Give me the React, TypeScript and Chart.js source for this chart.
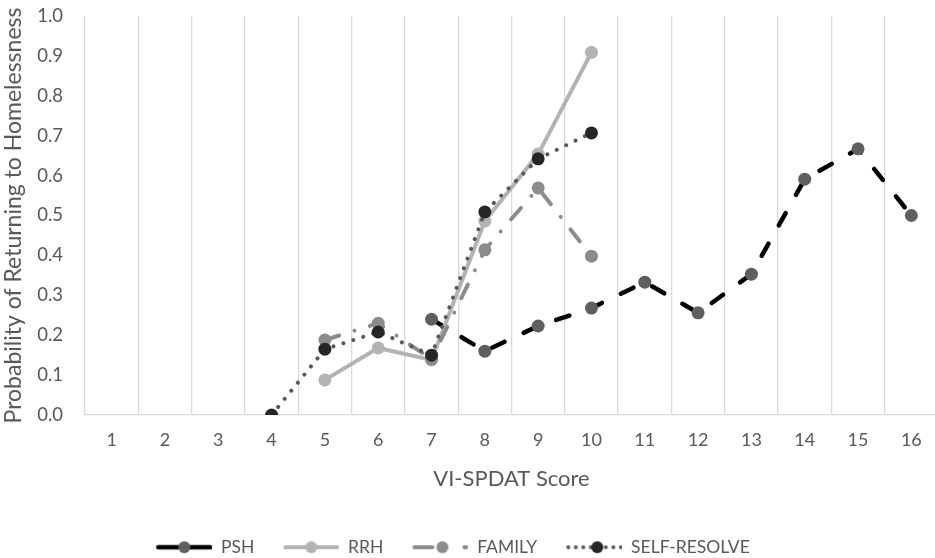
import React, { useEffect, useRef } from 'react';
import { Chart, registerables } from 'chart.js';

Chart.register(...registerables);

const categories = ['1', '2', '3', '4', '5', '6', '7', '8', '9', '10', '11', '12', '13', '14', '15', '16'];
const seriesNames = ['PSH', 'RRH', 'FAMILY', 'SELF-RESOLVE'];
const pshValues = [null, null, null, null, null, null, 0.24, 0.16, 0.223, 0.268, 0.333, 0.256, 0.353, 0.591, 0.667, 0.5];
const rrhValues = [null, null, null, null, 0.088, 0.168, 0.138, 0.486, 0.654, 0.909, null, null, null, null, null, null];
const familyValues = [null, null, null, null, 0.188, 0.23, 0.14, 0.414, 0.569, 0.398, null, null, null, null, null, null];
const selfResolveValues = [null, null, null, 0, 0.165, 0.208, 0.15, 0.509, 0.642, 0.707, null, null, null, null, null, null];
const yTicks = [0, 0.1, 0.2, 0.3, 0.4, 0.5, 0.6, 0.7, 0.8, 0.9, 1.0];

const TEXT = '#595959';
const GRID = '#d9d9d9';
const FONT = 'Lato';

const CANVAS_W = 945;
const CANVAS_H = 566;
const IMG_W = 80;
const IMG_H = 16;
const LEGEND_SHIFT_X = -28;

function makeSymbol(draw: (ctx: CanvasRenderingContext2D) => void) {
  const c = document.createElement('canvas');
  c.width = IMG_W;
  c.height = IMG_H;
  const ctx = c.getContext('2d')!;
  ctx.lineCap = 'round';
  draw(ctx);
  return c;
}

function marker(ctx: CanvasRenderingContext2D, x: number, color: string) {
  ctx.setLineDash([]);
  ctx.fillStyle = color;
  ctx.beginPath();
  ctx.arc(x, IMG_H / 2, 6, 0, Math.PI * 2);
  ctx.fill();
}

function seg(ctx: CanvasRenderingContext2D, x1: number, x2: number, color: string, w: number, dash: number[] = []) {
  ctx.setLineDash(dash);
  ctx.strokeStyle = color;
  ctx.lineWidth = w;
  ctx.beginPath();
  ctx.moveTo(x1, IMG_H / 2);
  ctx.lineTo(x2, IMG_H / 2);
  ctx.stroke();
}

const legendShift = {
  id: 'legendShift',
  afterLayout(chart: any) {
    const lg = chart.legend;
    if (lg) {
      lg.left += LEGEND_SHIFT_X;
      lg.right += LEGEND_SHIFT_X;
    }
  },
};

export default function App() {
  const ref = useRef<HTMLCanvasElement | null>(null);

  useEffect(() => {
    document.body.style.margin = '0';
    document.body.style.overflow = 'hidden';
    const canvas = ref.current;
    if (!canvas) return;

    const symbols = [
      makeSymbol((ctx) => {
        seg(ctx, 26, 78, '#000000', 4.5);
        marker(ctx, 52, '#5f5f5f');
      }),
      makeSymbol((ctx) => {
        seg(ctx, 26, 78, '#b3b3b3', 4);
        marker(ctx, 52, '#b3b3b3');
      }),
      makeSymbol((ctx) => {
        seg(ctx, 26, 44, '#8c8c8c', 4);
        marker(ctx, 54, '#8c8c8c');
        seg(ctx, 76, 78, '#8c8c8c', 4);
      }),
      makeSymbol((ctx) => {
        seg(ctx, 26, 79, '#595959', 4, [0.01, 7.5]);
        marker(ctx, 55, '#262626');
      }),
    ];

    const chart = new Chart(canvas, {
      type: 'line',
      data: {
        labels: categories,
        datasets: [
          {
            label: seriesNames[0],
            data: pshValues,
            borderColor: '#000000',
            borderWidth: 4.5,
            borderDash: [14, 21],
            borderCapStyle: 'round',
            pointBackgroundColor: '#5f5f5f',
            pointBorderColor: '#5f5f5f',
            pointBorderWidth: 0,
            pointRadius: 6.5,
            tension: 0,
            order: 4,
          },
          {
            label: seriesNames[1],
            data: rrhValues,
            borderColor: '#b3b3b3',
            borderWidth: 4,
            borderCapStyle: 'round',
            pointBackgroundColor: '#b3b3b3',
            pointBorderColor: '#b3b3b3',
            pointBorderWidth: 0,
            pointRadius: 6.5,
            tension: 0,
            order: 3,
          },
          {
            label: seriesNames[2],
            data: familyValues,
            borderColor: '#8c8c8c',
            borderWidth: 4,
            borderDash: [15, 16, 0.01, 16],
            borderCapStyle: 'round',
            pointBackgroundColor: '#8c8c8c',
            pointBorderColor: '#8c8c8c',
            pointBorderWidth: 0,
            pointRadius: 6.5,
            tension: 0,
            order: 2,
          },
          {
            label: seriesNames[3],
            data: selfResolveValues,
            borderColor: '#595959',
            borderWidth: 4,
            borderDash: [0.01, 10.4],
            borderCapStyle: 'round',
            pointBackgroundColor: '#262626',
            pointBorderColor: '#262626',
            pointBorderWidth: 0,
            pointRadius: 6.5,
            tension: 0,
            order: 1,
          },
        ],
      },
      options: {
        responsive: false,
        animation: false,
        events: [],
        layout: { autoPadding: false, padding: { left: 0, right: 7, top: 16, bottom: 0 } },
        scales: {
          x: {
            type: 'category',
            offset: true,
            grid: { display: true, offset: true, color: GRID, lineWidth: 1.3, drawTicks: false },
            border: { display: true, color: GRID, width: 1.3 },
            ticks: { color: TEXT, font: { family: FONT, size: 18 }, padding: 14, maxRotation: 0, autoSkip: false },
            title: { display: true, text: 'VI-SPDAT Score', color: TEXT, font: { family: FONT, size: 22 }, padding: { top: 0, bottom: 41 } },
            afterFit: (scale: any) => {
              scale.height = 118.5;
            },
          },
          y: {
            min: 0,
            max: 1,
            grid: { display: false, drawTicks: false },
            border: { display: false },
            afterBuildTicks: (scale: any) => {
              scale.ticks = yTicks.map((v) => ({ value: v }));
            },
            ticks: {
              color: TEXT,
              font: { family: FONT, size: 18.5 },
              padding: 22,
              callback: (v: any) => Number(v).toFixed(1),
            },
            title: { display: true, text: 'Probability of Returning to Homelessness', color: TEXT, font: { family: FONT, size: 23 }, padding: { top: 0, bottom: 0 } },
            afterFit: (scale: any) => {
              scale.width = 85;
              scale.paddingTop = 0;
              scale.paddingBottom = 0;
            },
          },
        },
        plugins: {
          tooltip: { enabled: false },
          legend: {
            position: 'bottom',
            labels: {
              usePointStyle: true,
              pointStyleWidth: IMG_W,
              padding: 5,
              color: TEXT,
              font: { family: FONT, size: 17.5 },
              sort: (a: any, b: any) => a.datasetIndex - b.datasetIndex,
              generateLabels: (ch: any) => {
                const items = (Chart as any).defaults.plugins.legend.labels.generateLabels(ch);
                return items.map((it: any) => ({ ...it, pointStyle: symbols[it.datasetIndex], fontColor: TEXT }));
              },
            },
          },
        },
      },
      plugins: [legendShift],
    } as any);

    return () => chart.destroy();
  }, []);

  return (
    <div style={{ width: CANVAS_W, height: CANVAS_H, position: 'relative' }}>
      <canvas ref={ref} width={CANVAS_W} height={CANVAS_H} style={{ display: 'block', width: CANVAS_W, height: CANVAS_H }} />
    </div>
  );
}
